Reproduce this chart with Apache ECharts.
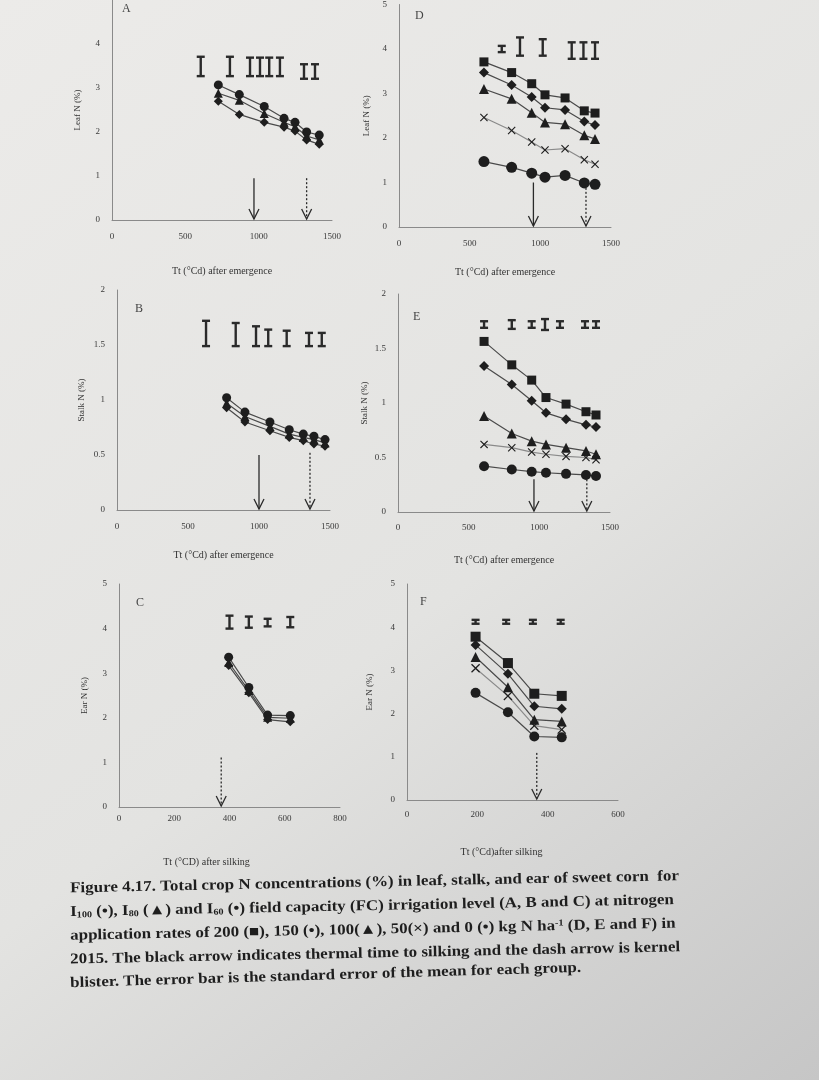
<!DOCTYPE html>
<html>
<head>
<meta charset="utf-8">
<script src="https://cdn.jsdelivr.net/npm/echarts@6/dist/echarts.min.js"></script>
<style>
  html, body { margin: 0; padding: 0; }
  #main { width: 819px; height: 1080px; }
</style>
</head>
<body>
<div id="main"></div>
<script>
// ---- data ----
// A: leaf N, irrigation
var xA = [725, 868, 1038, 1173, 1248, 1327, 1413];
var leafI100 = [3.07, 2.85, 2.58, 2.31, 2.22, 2.00, 1.93];
var leafI80 = [2.88, 2.72, 2.42, 2.22, 2.12, 1.91, 1.82];
var leafI60 = [2.70, 2.40, 2.22, 2.11, 2.02, 1.82, 1.72];
var errAx = [605, 804, 941, 1009, 1072, 1145, 1309, 1384];
var errAlo = [3.27, 3.27, 3.27, 3.27, 3.27, 3.27, 3.21, 3.21];
var errAhi = [3.71, 3.71, 3.69, 3.69, 3.69, 3.69, 3.54, 3.54];

// B: stalk N, irrigation
var xB = [772, 901, 1077, 1213, 1312, 1387, 1465];
var stalkI100 = [1.02, 0.89, 0.80, 0.73, 0.69, 0.67, 0.64];
var stalkI80 = [0.97, 0.85, 0.76, 0.69, 0.66, 0.64, 0.61];
var stalkI60 = [0.93, 0.80, 0.72, 0.66, 0.63, 0.60, 0.58];
var errBx = [627, 836, 979, 1065, 1195, 1352, 1442];
var errBlo = [1.49, 1.49, 1.49, 1.49, 1.49, 1.49, 1.49];
var errBhi = [1.72, 1.70, 1.67, 1.64, 1.63, 1.61, 1.61];

// C: ear N, irrigation
var xC = [397, 470, 538, 620];
var earI100 = [3.36, 2.68, 2.06, 2.05];
var earI80 = [3.24, 2.61, 2.01, 1.99];
var earI60 = [3.17, 2.56, 1.96, 1.91];
var errCx = [400, 470, 538, 620];
var errClo = [4.00, 4.02, 4.05, 4.03];
var errChi = [4.29, 4.27, 4.22, 4.26];

// D: leaf N, nitrogen rates
var xD = [601, 797, 939, 1033, 1175, 1311, 1387];
var leafN200 = [3.71, 3.47, 3.22, 2.97, 2.90, 2.61, 2.56];
var leafN150 = [3.47, 3.19, 2.92, 2.68, 2.63, 2.37, 2.29];
var leafN100 = [3.10, 2.88, 2.57, 2.35, 2.31, 2.06, 1.98];
var leafN50 = [2.46, 2.17, 1.91, 1.73, 1.76, 1.51, 1.41];
var leafN0 = [1.47, 1.34, 1.21, 1.12, 1.16, 0.99, 0.96];
var errDx = [727, 856, 1017, 1222, 1305, 1387];
var errDlo = [3.93, 3.85, 3.85, 3.78, 3.78, 3.78];
var errDhi = [4.07, 4.26, 4.22, 4.15, 4.15, 4.15];

// E: stalk N, nitrogen rates
var xE = [609, 805, 946, 1047, 1189, 1330, 1401];
var stalkN200 = [1.565, 1.35, 1.21, 1.05, 0.99, 0.92, 0.89];
var stalkN150 = [1.34, 1.17, 1.02, 0.91, 0.85, 0.80, 0.78];
var stalkN100 = [0.88, 0.72, 0.65, 0.62, 0.59, 0.56, 0.53];
var stalkN50 = [0.62, 0.59, 0.55, 0.53, 0.51, 0.50, 0.48];
var stalkN0 = [0.42, 0.39, 0.37, 0.36, 0.35, 0.34, 0.33];
var errEx = [609, 805, 946, 1040, 1146, 1323, 1401];
var errElo = [1.69, 1.68, 1.69, 1.67, 1.69, 1.69, 1.69];
var errEhi = [1.75, 1.76, 1.75, 1.77, 1.75, 1.75, 1.75];

// F: ear N, nitrogen rates
var xF = [195, 287, 362, 440];
var earN200 = [3.78, 3.17, 2.46, 2.41];
var earN150 = [3.59, 2.92, 2.17, 2.11];
var earN100 = [3.31, 2.61, 1.86, 1.82];
var earN50 = [3.05, 2.41, 1.72, 1.63];
var earN0 = [2.48, 2.03, 1.47, 1.45];
var errFx = [195, 282, 358, 437];
var errFlo = [4.08, 4.08, 4.08, 4.08];
var errFhi = [4.17, 4.17, 4.17, 4.17];

// arrows: x, top, dashed
var arrowsA = [[968, 0.95, 0], [1327, 0.95, 1]];
var arrowsB = [[1000, 0.5, 0], [1359, 0.52, 1]];
var arrowsC = [[370, 1.11, 1]];
var arrowsD = [[951, 1.0, 0], [1323, 0.88, 1]];
var arrowsE = [[962, 0.30, 0], [1336, 0.30, 1]];
var arrowsF = [[369, 1.09, 1]];

var serif = '"Liberation Serif", "DejaVu Serif", serif';
var crossPath = 'path://M0,1L1,0L5,4L9,0L10,1L6,5L10,9L9,10L5,6L1,10L0,9L4,5Z';

var chart = echarts.init(document.getElementById('main'));

function zip(xs, ys) {
    return xs.map(function (x, i) { return [x, ys[i]]; });
}

function lineSeries(xs, ys, symbol, size, g, lineColor) {
    return {
        type: 'line',
        xAxisIndex: g,
        yAxisIndex: g,
        data: zip(xs, ys),
        symbol: symbol,
        symbolSize: size,
        itemStyle: { color: '#1e1e1e' },
        lineStyle: { color: lineColor || '#4a4a4a', width: 1.2 },
        z: 3
    };
}

function renderErr(params, api) {
    var lo = api.coord([api.value(0), api.value(1)]);
    var hi = api.coord([api.value(0), api.value(2)]);
    var w = 4;
    var st = { stroke: '#2a2a2a', lineWidth: 2.4 };
    return {
        type: 'group',
        children: [
            { type: 'line', shape: { x1: lo[0], y1: lo[1], x2: hi[0], y2: hi[1] }, style: st },
            { type: 'line', shape: { x1: lo[0] - w, y1: lo[1], x2: lo[0] + w, y2: lo[1] }, style: st },
            { type: 'line', shape: { x1: hi[0] - w, y1: hi[1], x2: hi[0] + w, y2: hi[1] }, style: st }
        ]
    };
}

function errSeries(xs, lo, hi, g) {
    return {
        type: 'custom',
        xAxisIndex: g,
        yAxisIndex: g,
        renderItem: renderErr,
        data: xs.map(function (x, i) { return [x, lo[i], hi[i]]; }),
        encode: { x: 0, y: [1, 2] },
        z: 4
    };
}

function renderArrow(params, api) {
    var top = api.coord([api.value(0), api.value(1)]);
    var bot = api.coord([api.value(0), 0]);
    var dashed = api.value(2) === 1;
    return {
        type: 'group',
        children: [
            { type: 'line', shape: { x1: top[0], y1: top[1], x2: bot[0], y2: bot[1] - 1 },
              style: { stroke: '#2a2a2a', lineWidth: 1.3, lineDash: dashed ? [2, 2] : null } },
            { type: 'polyline', shape: { points: [[bot[0] - 5, bot[1] - 11], [bot[0], bot[1] - 1], [bot[0] + 5, bot[1] - 11]] },
              style: { stroke: '#2a2a2a', lineWidth: 1.3, fill: null } }
        ]
    };
}

function arrowSeries(data, g) {
    return {
        type: 'custom',
        xAxisIndex: g,
        yAxisIndex: g,
        renderItem: renderArrow,
        data: data,
        encode: { x: 0, y: 1 },
        z: 2
    };
}

var grids = [
    { left: 112, top: -9, width: 220, height: 229 },   // A
    { left: 117, top: 290, width: 213, height: 220 },  // B
    { left: 119, top: 584, width: 221, height: 223 },  // C
    { left: 399, top: -2, width: 212, height: 229 },   // D
    { left: 398, top: 294, width: 212, height: 218 },  // E
    { left: 407, top: 584, width: 211, height: 216 }   // F
];

var xMax = [1500, 1500, 800, 1500, 1500, 600];
var xStep = [500, 500, 200, 500, 500, 200];
var yMax = [5, 2, 5, 5, 2, 5];
var yStep = [1, 0.5, 1, 1, 0.5, 1];
var xNames = ['Tt (°Cd) after emergence', 'Tt (°Cd) after emergence', 'Tt (°CD) after silking',
              'Tt (°Cd) after emergence', 'Tt (°Cd) after emergence', 'Tt (°Cd)after silking'];
var yNames = ['Leaf N (%)', 'Stalk N (%)', 'Ear N (%)', 'Leaf N (%)', 'Stalk N (%)', 'Ear N (%)'];
var xNameGap = [46, 40, 50, 40, 43, 47];
var xLabelMargin = [12, 12, 7, 12, 11, 10];
var yNameGap = [30, 31, 30, 28, 29, 33];
var xNamePad = [[0, 0, 0, 0], [0, 0, 0, 0], [0, 46, 0, 0], [0, 0, 0, 0], [0, 0, 0, 0], [0, 22, 0, 0]];
var showTopLabel = [false, true, true, true, true, true];

function plain(v) { return String(v); }

var xAxes = grids.map(function (g, i) {
    return {
        gridIndex: i, type: 'value', min: 0, max: xMax[i], interval: xStep[i],
        name: xNames[i], nameLocation: 'middle', nameGap: xNameGap[i],
        nameTextStyle: { fontFamily: serif, fontSize: 10, color: '#333', padding: xNamePad[i] },
        axisLine: { lineStyle: { color: '#8a8a8a', width: 1 } },
        axisTick: { show: false },
        splitLine: { show: false },
        axisLabel: { fontFamily: serif, fontSize: 9, color: '#3a3a3a', margin: xLabelMargin[i], formatter: plain }
    };
});

var yAxes = grids.map(function (g, i) {
    return {
        gridIndex: i, type: 'value', min: 0, max: yMax[i], interval: yStep[i],
        name: yNames[i], nameLocation: 'middle', nameGap: yNameGap[i],
        nameTextStyle: { fontFamily: serif, fontSize: 9, color: '#333' },
        axisLine: { show: true, lineStyle: { color: '#8a8a8a', width: 1 } },
        axisTick: { show: false },
        splitLine: { show: false },
        axisLabel: { fontFamily: serif, fontSize: 9, color: '#3a3a3a', margin: 12, formatter: plain,
                     showMaxLabel: showTopLabel[i] }
    };
});

var series = [
    // A
    lineSeries(xA, leafI100, 'circle', 9, 0),
    lineSeries(xA, leafI80, 'triangle', 9, 0),
    lineSeries(xA, leafI60, 'diamond', 9, 0),
    errSeries(errAx, errAlo, errAhi, 0),
    arrowSeries(arrowsA, 0),
    // B
    lineSeries(xB, stalkI100, 'circle', 9, 1),
    lineSeries(xB, stalkI80, 'triangle', 9, 1),
    lineSeries(xB, stalkI60, 'diamond', 9, 1),
    errSeries(errBx, errBlo, errBhi, 1),
    arrowSeries(arrowsB, 1),
    // C
    lineSeries(xC, earI100, 'circle', 9, 2),
    lineSeries(xC, earI80, 'triangle', 9, 2),
    lineSeries(xC, earI60, 'diamond', 9, 2),
    errSeries(errCx, errClo, errChi, 2),
    arrowSeries(arrowsC, 2),
    // D
    lineSeries(xD, leafN200, 'rect', 9, 3),
    lineSeries(xD, leafN150, 'diamond', 10, 3),
    lineSeries(xD, leafN100, 'triangle', 10, 3),
    lineSeries(xD, leafN50, crossPath, 8, 3, '#8a8a8a'),
    lineSeries(xD, leafN0, 'circle', 11, 3),
    errSeries(errDx, errDlo, errDhi, 3),
    arrowSeries(arrowsD, 3),
    // E
    lineSeries(xE, stalkN200, 'rect', 9, 4),
    lineSeries(xE, stalkN150, 'diamond', 10, 4),
    lineSeries(xE, stalkN100, 'triangle', 10, 4),
    lineSeries(xE, stalkN50, crossPath, 8, 4, '#8a8a8a'),
    lineSeries(xE, stalkN0, 'circle', 10, 4),
    errSeries(errEx, errElo, errEhi, 4),
    arrowSeries(arrowsE, 4),
    // F
    lineSeries(xF, earN200, 'rect', 10, 5),
    lineSeries(xF, earN150, 'diamond', 10, 5),
    lineSeries(xF, earN100, 'triangle', 10, 5),
    lineSeries(xF, earN50, crossPath, 9, 5, '#8a8a8a'),
    lineSeries(xF, earN0, 'circle', 10, 5),
    errSeries(errFx, errFlo, errFhi, 5),
    arrowSeries(arrowsF, 5)
];

// panel letters
var letters = [['A', 122, 3], ['B', 135, 303], ['C', 136, 597], ['D', 415, 10], ['E', 413, 311], ['F', 420, 596]];
var graphics = letters.map(function (l) {
    return { type: 'text', x: l[1], y: l[2], style: { text: l[0], fontFamily: serif, fontSize: 12, fill: '#444' } };
});

// caption
var capRich = {
    sub: { fontFamily: serif, fontSize: 9, fontWeight: 'bold', fill: '#1e1e1e', verticalAlign: 'bottom' },
    sup: { fontFamily: serif, fontSize: 9, fontWeight: 'bold', fill: '#1e1e1e', verticalAlign: 'top' }
};
var captionLines = [
    'Figure 4.17. Total crop N concentrations (%) in leaf, stalk, and ear of sweet corn  for',
    'I{sub|100} (•), I{sub|80} (▲) and I{sub|60} (•) field capacity (FC) irrigation level (A, B and C) at nitrogen',
    'application rates of 200 (■), 150 (•), 100(▲), 50(×) and 0 (•) kg N ha{sup|-1} (D, E and F) in',
    '2015. The black arrow indicates thermal time to silking and the dash arrow is kernel',
    'blister. The error bar is the standard error of the mean for each group.'
];
captionLines.forEach(function (t, i) {
    graphics.push({
        type: 'text', x: 70, y: 881 + i * 23.7, rotation: i === 4 ? 0.03 : 0.02, scaleX: 1.13,
        style: { text: t, fontFamily: serif, fontSize: 15, fontWeight: 'bold', fill: '#1e1e1e', rich: capRich }
    });
});

var option = {
    animation: false,
    backgroundColor: new echarts.graphic.LinearGradient(0, 0, 1, 1, [
        { offset: 0, color: '#ecebe9' },
        { offset: 0.55, color: '#e3e3e1' },
        { offset: 1, color: '#c6c6c6' }
    ]),
    grid: grids,
    xAxis: xAxes,
    yAxis: yAxes,
    series: series,
    graphic: graphics
};

chart.setOption(option);
</script>
</body>
</html>
